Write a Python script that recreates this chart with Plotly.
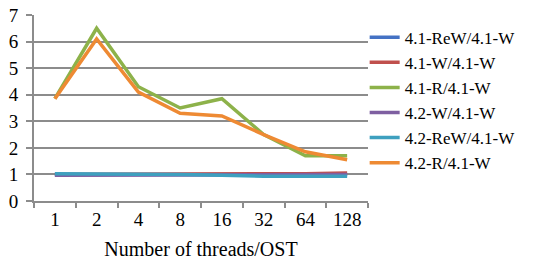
import plotly.graph_objects as go

categories = ["1", "2", "4", "8", "16", "32", "64", "128"]
rew41 = [1.0, 1.0, 1.0, 1.0, 1.0, 1.0, 1.0, 1.0]
w41 = [1.0, 1.0, 1.0, 1.0, 1.02, 1.02, 1.03, 1.05]
r41 = [3.85, 6.5, 4.3, 3.5, 3.85, 2.5, 1.7, 1.7]
w42 = [0.97, 0.97, 0.98, 0.99, 1.0, 1.0, 1.0, 1.0]
rew42 = [1.03, 1.03, 1.0, 1.0, 0.97, 0.93, 0.93, 0.93]
r42 = [3.85, 6.1, 4.1, 3.3, 3.2, 2.5, 1.85, 1.55]

series = [
    ("4.1-ReW/4.1-W", rew41, "#4472C4"),
    ("4.1-W/4.1-W", w41, "#C0504D"),
    ("4.1-R/4.1-W", r41, "#8DB24A"),
    ("4.2-W/4.1-W", w42, "#7E5FA1"),
    ("4.2-ReW/4.1-W", rew42, "#3EA0BF"),
    ("4.2-R/4.1-W", r42, "#EE8A33"),
]

fig = go.Figure()
for name, vals, color in series:
    fig.add_trace(go.Scatter(x=categories, y=vals, name=name, mode="lines",
                             line=dict(color=color, width=3.5)))

serif = "Liberation Serif, Times New Roman, serif"
font = dict(family=serif, size=19, color="#000000")
fig.update_layout(
    width=545, height=271,
    margin=dict(l=34, r=177, t=15, b=70, autoexpand=False),
    paper_bgcolor="white", plot_bgcolor="white",
    font=font,
    showlegend=True,
    legend=dict(x=0.99, y=0.975, xanchor="left", yanchor="top",
                font=dict(family=serif, size=17, color="#000000"),
                tracegroupgap=0, itemwidth=30, bgcolor="rgba(0,0,0,0)"),
    xaxis=dict(type="category", range=[-0.5, 7.5], showline=True, linecolor="#8C8C8C", linewidth=2,
               ticks="outside", tickson="boundaries", ticklen=5, tickcolor="#8C8C8C",
               tickwidth=2, showgrid=False, tickfont=font, automargin=False,
               title=dict(text="Number of threads/OST", font=dict(family=serif, size=20, color="#000000"),
                          standoff=13)),
    yaxis=dict(range=[0, 7], dtick=1, showline=True, linecolor="#8C8C8C", linewidth=2,
               ticks="outside", ticklen=6, tickcolor="#8C8C8C", tickwidth=2, tickfont=font,
               ticklabelstandoff=4, automargin=False,
               showgrid=True, gridcolor="#8C8C8C", gridwidth=2, zeroline=False),
)
fig.write_html("out.html", config={"displayModeBar": False},
               post_script="document.body.style.margin='0';")
